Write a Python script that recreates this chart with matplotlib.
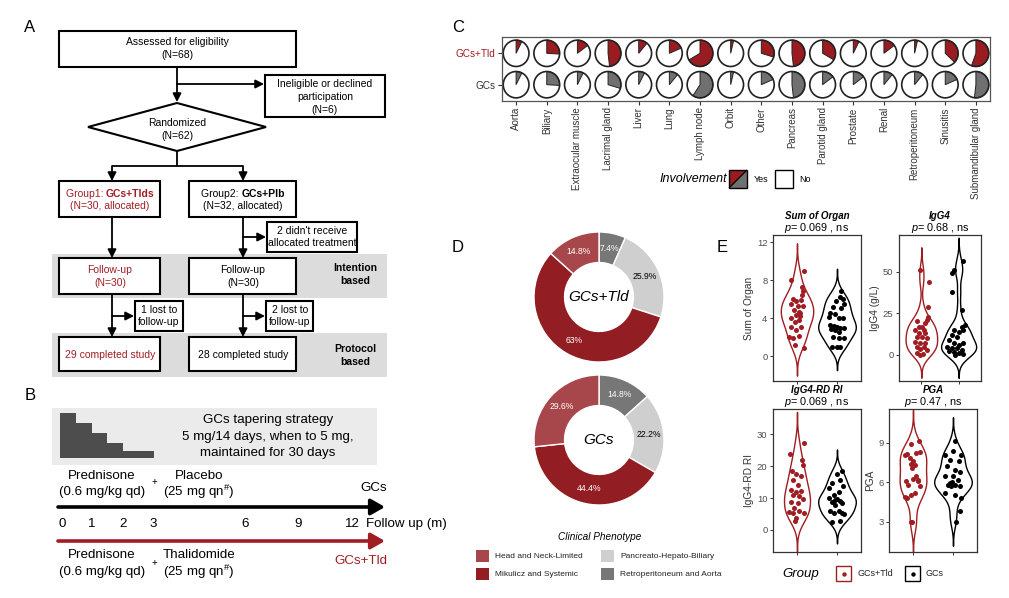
import numpy as np
import matplotlib
matplotlib.use('Agg')
import matplotlib.pyplot as plt
from matplotlib.patches import Rectangle, Polygon, Wedge, Circle

plt.rcParams['font.family'] = ['Liberation Sans', 'DejaVu Sans']
plt.rcParams['mathtext.fontset'] = 'custom'
plt.rcParams['mathtext.rm'] = 'Liberation Sans'
plt.rcParams['mathtext.it'] = 'Liberation Sans:italic'
plt.rcParams['mathtext.bf'] = 'Liberation Sans:bold'

# ------------------------------------------------------------------ data
timeline_months = [0, 1, 2, 3, 6, 9, 12]

organs = ['Aorta', 'Biliary', 'Extraocular muscle', 'Lacrimal gland', 'Liver', 'Lung',
          'Lymph node', 'Orbit', 'Other', 'Pancreas', 'Parotid gland', 'Prostate',
          'Renal', 'Retroperitoneum', 'Sinusitis', 'Submandibular gland']
n_per_group = 27
tld_involved = [2, 7, 4, 13, 3, 5, 18, 1, 8, 13, 9, 2, 4, 1, 10, 15]
gcs_involved = [2, 7, 2, 8, 2, 3, 16, 1, 5, 13, 4, 4, 3, 3, 5, 14]

phenotypes = ['Head and Neck-Limited', 'Mikulicz and Systemic',
              'Pancreato-Hepato-Biliary', 'Retroperitoneum and Aorta']
tld_pct = [14.8, 63, 25.9, 7.4]
gcs_pct = [29.6, 44.4, 22.2, 14.8]

# panel E: values and horizontal jitter
sum_tld = [9.0, 8.0, 7.3, 6.8, 6.4, 6.0, 5.8, 5.9, 5.5, 5.3, 5.3, 4.8, 4.65, 4.05, 4.3,
           4.2, 3.6, 3.8, 3.1, 3.1, 2.7, 1.95, 1.85, 2.1, 1.15, 0.8, 4.5]
sum_tld_jit = [0.18, -0.15, 0.13, 0.14, 0.12, -0.11, -0.03, 0.10, -0.15, 0.02, 0.14, -0.07,
               0.06, -0.15, -0.03, 0.08, -0.04, 0.04, -0.15, 0.10, -0.03, -0.19, -0.11,
               0.04, -0.04, 0.18, 0.08]
sum_gcs = [6.8, 6.2, 6.05, 5.8, 5.45, 5.2, 5.1, 4.55, 4.4, 3.95, 4.05, 4.1, 3.3, 3.2, 3.1,
           3.0, 2.9, 2.8, 2.7, 2.55, 1.95, 1.85, 1.85, 1.0, 1.0, 0.9]
sum_gcs_jit = [0.10, 0.07, 0.15, -0.02, 0.18, -0.11, 0.10, -0.17, -0.06, 0.15, 0.04, -0.21,
               -0.17, -0.08, 0.0, 0.08, 0.17, -0.14, -0.04, 0.04, -0.10, 0.04, 0.17, -0.13,
               0.0, 0.08]
igg4_tld = [51, 44, 29, 22.6, 21, 20.6, 19, 17, 17, 15, 15, 13, 13, 11, 11, 10, 8, 7, 7,
            5, 5, 3.4, 3, 1.4, 0.6, 0]
igg4_tld_jit = [-0.03, 0.21, 0.17, 0.19, 0.15, -0.13, 0.10, -0.07, 0.02, -0.16, 0.06,
                -0.07, 0.10, -0.11, 0.02, 0.15, -0.16, -0.03, 0.10, -0.11, 0.06, -0.04,
                0.15, -0.11, 0.04, -0.03]
igg4_gcs = [56.6, 51, 49.4, 38, 27, 18, 17, 15, 14, 15, 12, 11, 9, 7, 6, 7, 5, 4, 4, 3,
            2.6, 2, 1.4, 0.6, 0]
igg4_gcs_jit = [0.13, -0.13, -0.17, -0.17, 0.10, 0.17, 0.09, -0.13, 0.0, 0.13, -0.17,
                -0.04, -0.26, -0.13, 0.0, 0.13, -0.30, -0.17, -0.04, 0.09, -0.26, -0.13,
                0.0, 0.13, -0.09]
ri_tld = [27.4, 23.9, 21.8, 20.5, 18.4, 17.4, 16.8, 15.8, 14.2, 12.6, 11.9, 12.3, 11,
          10.5, 9.8, 8.9, 8.4, 6.8, 5.6, 5.3, 6.0, 5.3, 3.7, 2.8]
ri_tld_jit = [0.18, -0.18, 0.13, 0.14, -0.13, -0.03, 0.10, -0.11, 0.02, -0.15, -0.03,
              0.10, -0.11, 0.04, 0.14, -0.15, 0.02, -0.07, -0.19, -0.09, 0.04, 0.18,
              -0.03, -0.04]
ri_gcs = [18.6, 17.4, 15.8, 14.7, 13.7, 13.2, 11.9, 11, 10, 9.8, 8.9, 8.4, 7.9, 5.8, 5.8,
          5.3, 5.3, 2.8, 2.4, 9.5, 9.0, 5.0]
ri_gcs_jit = [0.13, 0.0, 0.08, -0.13, 0.15, -0.19, 0.04, -0.08, -0.21, 0.0, -0.13, 0.13,
              -0.04, -0.17, 0.04, 0.13, -0.08, 0.08, -0.13, -0.04, 0.07, 0.17]
pga_tld = [9.1, 8.87, 8.15, 8.05, 8.2, 8.3, 7.85, 7.64, 7.4, 7.3, 7.1, 6.45, 6.27, 6.06,
           6.1, 5.8, 5.68, 5.17, 4.9, 5.0, 3.0, 3.0, 6.2, 4.8]
pga_tld_jit = [0.15, -0.04, -0.14, -0.21, 0.08, 0.17, -0.08, 0.0, -0.06, 0.04, -0.02,
               0.08, 0.0, -0.17, 0.12, -0.13, 0.17, 0.04, -0.19, -0.06, -0.02, -0.06,
               0.13, -0.15]
pga_gcs = [8.36, 8.1, 8.1, 7.7, 7.64, 7.2, 6.95, 6.8, 6.45, 6.45, 6.2, 5.93, 5.8, 5.75,
           5.68, 5.17, 5.04, 4.79, 3.8, 3.0, 5.8, 9.1, 6.0]
pga_gcs_jit = [0.0, -0.21, 0.21, -0.08, 0.15, -0.15, 0.04, 0.17, -0.21, 0.0, 0.13, -0.08,
               0.04, 0.17, -0.04, -0.19, 0.04, 0.21, 0.17, 0.08, -0.13, 0.06, -0.02]

# ------------------------------------------------------------------ style
RED = '#a01d22'
PIE_RED = '#9b1c20'
PIE_GRAY = '#707070'
PHEN_COLORS = ['#a8474b', '#921d22', '#cfcfcf', '#777777']
W, H = 1009, 598

fig = plt.figure(figsize=(W / 100, H / 100), dpi=100)


def fax(x0, y0, x1, y1):
    return fig.add_axes([x0 / W, 1 - y1 / H, (x1 - x0) / W, (y1 - y0) / H])


ax0 = fig.add_axes([0, 0, 1, 1])
ax0.set_xlim(0, W)
ax0.set_ylim(H, 0)
ax0.axis('off')


def box(x0, y0, x1, y1, lw=1.5, fc='white', ec='black'):
    ax0.add_patch(Rectangle((x0, y0), x1 - x0, y1 - y0, fc=fc, ec=ec, lw=lw))


def arrow(x0, y0, x1, y1, color='black', lw=1.3, ms=9):
    ax0.annotate('', xy=(x1, y1), xytext=(x0, y0),
                 arrowprops=dict(arrowstyle='-|>,head_length=0.55,head_width=0.28',
                                 color=color, lw=lw, shrinkA=0, shrinkB=0,
                                 mutation_scale=ms))


def line(xs, ys, color='black', lw=1.3):
    ax0.plot(xs, ys, color=color, lw=lw, solid_capstyle='butt')


AFS = 7.5


def txt(x, y, s, fs=AFS, ha='center', **kw):
    ax0.text(x, y, s, ha=ha, va='center', fontsize=fs, **kw)


# ------------------------------------------------------------------ panel A
txt(30, 27, 'A', fs=12)
box(52, 254, 387, 298, lw=0, fc='#dcdcdc')
box(52, 333, 387, 377, lw=0, fc='#dcdcdc')

box(59, 31, 296, 67)
txt(177, 42, 'Assessed for eligibility')
txt(177, 55, '(N=68)')
line([177, 177], [67, 84])
arrow(177, 84, 177, 102)
arrow(177, 84, 264, 84)
box(265, 75, 385, 117)
txt(325, 84, 'Ineligible or declined')
txt(325, 97, 'participation')
txt(325, 110, '(N=6)')
ax0.add_patch(Polygon([(88, 127), (177, 103), (266, 127), (177, 151)], closed=True,
                      fc='white', ec='black', lw=1.5))
txt(177, 123, 'Randomized')
txt(177, 136, '(N=62)')
line([177, 177], [151, 166])
line([112, 243], [166, 166])
arrow(112, 166, 112, 181)
arrow(243, 166, 243, 181)

box(59, 181, 160, 217)
txt(106, 194, 'Group1: ', ha='right', color=RED)
txt(106, 194, 'GCs+Tlds', ha='left', color=RED, fontweight='bold')
txt(110, 206, '(N=30, allocated)', color=RED)
box(189, 181, 296, 217)
txt(241.5, 194, 'Group2: ', ha='right')
txt(241.5, 194, 'GCs+Plb', ha='left', fontweight='bold')
txt(243, 206, '(N=32, allocated)')

arrow(112, 217, 112, 258)
arrow(243, 217, 243, 258)
arrow(243, 237, 266, 237)
box(267, 222, 357, 252)
txt(312, 231, "2 didn't receive")
txt(312, 243, 'allocated treatment')

box(59, 258, 160, 294)
txt(110, 270, 'Follow-up', color=RED)
txt(110, 283, '(N=30)', color=RED)
box(189, 258, 296, 294)
txt(243, 270, 'Follow-up')
txt(243, 283, '(N=30)')
txt(355, 268, 'Intention', fontweight='bold')
txt(355, 281, 'based', fontweight='bold')

arrow(112, 294, 112, 337)
arrow(112, 316, 134, 316)
box(135, 301, 183, 331)
txt(159, 310, '1 lost to')
txt(159, 322, 'follow-up')
arrow(243, 294, 243, 337)
arrow(243, 316, 265, 316)
box(266, 301, 313, 331)
txt(290, 310, '2 lost to')
txt(290, 322, 'follow-up')

box(59, 337, 160, 371)
txt(110, 355, '29 completed study', color=RED)
box(189, 337, 296, 371)
txt(243, 355, '28 completed study')
txt(355, 349, 'Protocol', fontweight='bold')
txt(355, 362, 'based', fontweight='bold')

# ------------------------------------------------------------------ panel B
txt(30, 396, 'B', fs=12)
box(52, 408, 377, 465, lw=0, fc='#ebebeb')
ax0.add_patch(Polygon([(60, 458), (60, 413), (76, 413), (76, 423), (92, 423), (92, 433),
                       (107, 433), (107, 443), (123, 443), (123, 451), (154, 451),
                       (154, 458)], closed=True, fc='#4d4d4d', ec='none'))
BFS = 9.6
txt(268, 420, 'GCs tapering strategy', fs=BFS)
txt(268, 437, '5 mg/14 days, when to 5 mg,', fs=BFS)
txt(268, 453, 'maintained for 30 days', fs=BFS)

txt(102, 476, 'Prednisone', fs=BFS)
txt(102, 492, '(0.6 mg/kg qd)', fs=BFS)
txt(154, 482, '+', fs=7)
txt(199, 476, 'Placebo', fs=BFS)
txt(199, 492, r'(25 mg qn$^{\#}$)', fs=BFS)
txt(387, 488, 'GCs', fs=BFS, ha='right')

ax0.annotate('', xy=(385, 507), xytext=(58, 507),
             arrowprops=dict(arrowstyle='-|>,head_length=0.7,head_width=0.4',
                             color='black', lw=2.6, shrinkA=0, shrinkB=0,
                             mutation_scale=12))
month_px = [62, 92, 123, 153, 245, 298, 352]
for m, xp in zip(timeline_months, month_px):
    txt(xp, 524, str(m), fs=BFS)
txt(366, 524, 'Follow up (m)', fs=BFS, ha='left')
ax0.annotate('', xy=(385, 541), xytext=(58, 541),
             arrowprops=dict(arrowstyle='-|>,head_length=0.7,head_width=0.4',
                             color=RED, lw=2.6, shrinkA=0, shrinkB=0,
                             mutation_scale=12))
txt(387, 561, 'GCs+Tld', fs=BFS, ha='right', color=RED)
txt(102, 555, 'Prednisone', fs=BFS)
txt(102, 572, '(0.6 mg/kg qd)', fs=BFS)
txt(154, 563, '+', fs=7)
txt(199, 555, 'Thalidomide', fs=BFS)
txt(199, 572, r'(25 mg qn$^{\#}$)', fs=BFS)

# ------------------------------------------------------------------ panel C
txt(458, 27, 'C', fs=12)
axc = fax(502, 37, 990, 101)
ncol = len(organs)
axc.set_xlim(0.54, ncol + 0.46)
axc.set_ylim(0.48, 2.52)
R = 0.42
for i in range(ncol):
    for row, counts, col in ((2, tld_involved, PIE_RED), (1, gcs_involved, PIE_GRAY)):
        frac = counts[i] / n_per_group
        cx = i + 1
        axc.add_patch(Circle((cx, row), R, fc='white', ec='none'))
        axc.add_patch(Wedge((cx, row), R, 90 - 360 * frac, 90, fc=col, ec='#222222',
                            lw=0.7))
        axc.add_patch(Circle((cx, row), R, fc='none', ec='#222222', lw=1.2))
axc.set_xticks(range(1, ncol + 1))
axc.set_xticklabels(organs, rotation=90, fontsize=7, color='#333333')
axc.set_yticks([1, 2])
axc.set_yticklabels(['GCs', 'GCs+Tld'], fontsize=7.2)
axc.get_yticklabels()[1].set_color(RED)
axc.get_yticklabels()[0].set_color('#333333')
axc.tick_params(length=3, width=0.8, color='#333333', pad=1.5)
for s in axc.spines.values():
    s.set_color('#555555')
    s.set_linewidth(0.9)

LY = 179
txt(693, LY, 'Involvement', fs=9, style='italic')
ax0.add_patch(Polygon([(729, LY - 9), (747, LY - 9), (729, LY + 9)], closed=True,
                      fc=PIE_RED, ec='none'))
ax0.add_patch(Polygon([(747, LY - 9), (747, LY + 9), (729, LY + 9)], closed=True,
                      fc=PIE_GRAY, ec='none'))
ax0.add_patch(Rectangle((729, LY - 9), 18, 18, fc='none', ec='black', lw=1.0))
line([729, 747], [LY + 9, LY - 9], lw=0.9)
txt(754, LY, 'Yes', fs=6.5, ha='left')
ax0.add_patch(Rectangle((775, LY - 9), 18, 18, fc='white', ec='black', lw=1.0))
txt(799, LY, 'No', fs=6.5, ha='left')

# ------------------------------------------------------------------ panel D
txt(458, 247, 'D', fs=12)
label_colors = ['white', 'white', 'black', 'white']
for (cx, cy), vals, name in (((599, 297), tld_pct, 'GCs+Tld'), ((599, 440), gcs_pct, 'GCs')):
    r = 65
    axd = fax(cx - r, cy - r, cx + r, cy + r)
    order = [3, 2, 1, 0]
    wedges, _ = axd.pie([vals[k] for k in order], colors=[PHEN_COLORS[k] for k in order],
                        startangle=90, counterclock=False, radius=1.0,
                        wedgeprops=dict(width=0.47, edgecolor='white', linewidth=1.0))
    axd.set_xlim(-1, 1)
    axd.set_ylim(-1, 1)
    axd.axis('off')
    for wdg, k in zip(wedges, order):
        ang = np.deg2rad((wdg.theta1 + wdg.theta2) / 2)
        axd.text(0.765 * np.cos(ang), 0.765 * np.sin(ang), f'{vals[k]:g}%',
                 ha='center', va='center', fontsize=6.2, color=label_colors[k])
    axd.text(0, 0, name, ha='center', va='center', fontsize=11, style='italic')

txt(600, 537, 'Clinical Phenotype', fs=7.2, style='italic')
leg_pos = [(476, 556), (476, 574), (601, 556), (601, 574)]
for (lx, ly), lab, col in zip(leg_pos, phenotypes, PHEN_COLORS):
    ax0.add_patch(Rectangle((lx, ly - 6), 13, 12, fc=col, ec='none'))
    txt(lx + 19, ly, lab, fs=6, ha='left', color='#222222')

# ------------------------------------------------------------------ panel E
txt(722, 247, 'E', fs=12)


def nrd0(x):
    x = np.asarray(x, float)
    sd = x.std(ddof=1)
    iqr = np.subtract(*np.percentile(x, [75, 25]))
    lo = min(sd, iqr / 1.34) if iqr > 0 else sd
    return 0.9 * lo * len(x) ** -0.2


def kde(x):
    x = np.asarray(x, float)
    bw = nrd0(x)
    grid = np.linspace(x.min() - 3 * bw, x.max() + 3 * bw, 400)
    d = np.exp(-0.5 * ((grid[:, None] - x[None, :]) / bw) ** 2).sum(1)
    d /= (len(x) * bw * np.sqrt(2 * np.pi))
    return grid, d


def violin_panel(box_px, tld, tld_j, gcs, gcs_j, ylim, yticks, ylabel, title, ptxt,
                 title_y):
    ax = fax(*box_px)
    dens = [kde(tld), kde(gcs)]
    dmax = max(d.max() for _, d in dens)
    for pos, (g, d), col in ((1, dens[0], RED), (2, dens[1], 'black')):
        w = 0.47 * d / dmax
        ax.fill_betweenx(g, pos - w, pos + w, facecolor='white', edgecolor=col, lw=1.0,
                         zorder=2)
    ax.scatter(1 + np.asarray(tld_j), tld, s=13, color=RED, zorder=3, linewidths=0)
    ax.scatter(2 + np.asarray(gcs_j), gcs, s=13, color='black', zorder=3, linewidths=0)
    ax.set_xlim(0.4, 2.6)
    ax.set_ylim(*ylim)
    ax.set_xticks([1, 2])
    ax.set_xticklabels([])
    ax.set_yticks(yticks)
    ax.tick_params(labelsize=6.8, labelcolor='#4d4d4d', length=2.5, width=0.7,
                   color='#333333', pad=1.5)
    ax.set_ylabel(ylabel, fontsize=7.3, color='#333333', labelpad=2)
    for s in ax.spines.values():
        s.set_color('#333333')
        s.set_linewidth(0.9)
    cx = (box_px[0] + box_px[2]) / 2
    txt(cx, title_y, title, fs=7, fontweight='bold', style='italic')
    txt(cx, title_y + 12, ptxt, fs=7.8)
    return ax


violin_panel((773, 235, 861, 381), sum_tld, sum_tld_jit, sum_gcs, sum_gcs_jit,
             (-2.63, 12.74), [0, 4, 8, 12], 'Sum of Organ', 'Sum of Organ',
             r'$p$= 0.069 , ns', 216)
violin_panel((899, 235, 981, 381), igg4_tld, igg4_tld_jit, igg4_gcs, igg4_gcs_jit,
             (-15.6, 72), [0, 25, 50], 'IgG4 (g/L)', 'IgG4', r'$p$= 0.68 , ns', 216)
violin_panel((773, 409, 861, 552), ri_tld, ri_tld_jit, ri_gcs, ri_gcs_jit,
             (-6.9, 37.9), [0, 10, 20, 30], 'IgG4-RD RI', 'IgG4-RD RI',
             r'$p$= 0.069 , ns', 390)
violin_panel((889, 409, 977, 552), pga_tld, pga_tld_jit, pga_gcs, pga_gcs_jit,
             (0.70, 11.56), [3, 6, 9], 'PGA', 'PGA', r'$p$= 0.47 , ns', 390)

txt(801, 574, 'Group', fs=9.5, style='italic')
ax0.add_patch(Rectangle((836, 566), 15, 15, fc='white', ec=RED, lw=1.0))
ax0.scatter([843.5], [573.5], s=10, color=RED, zorder=5, linewidths=0)
txt(857, 574, 'GCs+Tld', fs=6.5, ha='left', color='#222222')
ax0.add_patch(Rectangle((905, 566), 15, 15, fc='white', ec='black', lw=1.0))
ax0.scatter([912.5], [573.5], s=10, color='black', zorder=5, linewidths=0)
txt(925, 574, 'GCs', fs=6.5, ha='left', color='#222222')

fig.savefig('out.png', dpi=100)
